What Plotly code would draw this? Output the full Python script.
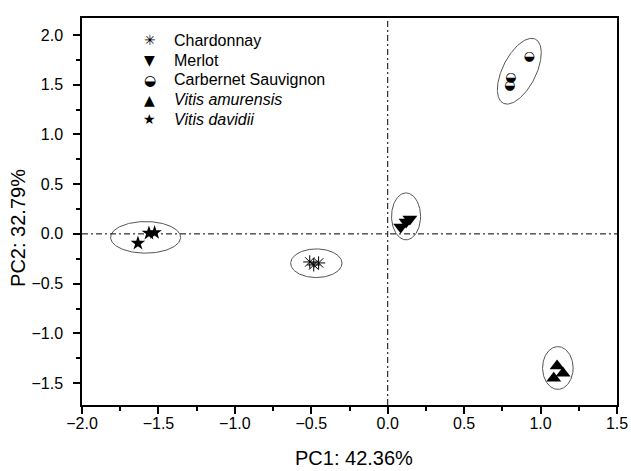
import numpy as np
import plotly.graph_objects as go

# ---- data ----
chard_x = [-0.51, -0.484, -0.452]
chard_y = [-0.282, -0.312, -0.292]
merlot_x = [0.085, 0.12, 0.145]
merlot_y = [0.07, 0.12, 0.15]
cab_x = [0.925, 0.805, 0.798]
cab_y = [1.784, 1.566, 1.492]
amur_x = [1.108, 1.147, 1.086]
amur_y = [-1.328, -1.401, -1.452]
david_x = [-1.634, -1.562, -1.525]
david_y = [-0.094, 0.007, 0.013]

legend_names = ["Chardonnay", "Merlot", "Carbernet Sauvignon",
                "<i>Vitis amurensis</i>", "<i>Vitis davidii</i>"]
legend_glyphs = ["✳", "▼", "◒", "▲", "★"]

x_title = "PC1: 42.36%"
y_title = "PC2: 32.79%"

# confidence ellipses: centre, and two conjugate half-axis vectors (data units)
ell_cx = [-0.467, 0.12, 0.861, 1.113, -1.584]
ell_cy = [-0.295, 0.176, 1.635, -1.348, -0.035]
ell_u = [(0.168, 0.0), (0.095, 0.0), (0.105, 0.322), (0.100, 0.0), (0.229, 0.0)]
ell_v = [(0.0, 0.144), (0.0, 0.236), (0.098, -0.075), (0.0, 0.215), (0.0, 0.159)]

x_ticks = [-2.0, -1.5, -1.0, -0.5, 0.0, 0.5, 1.0, 1.5]
y_ticks = [-1.5, -1.0, -0.5, 0.0, 0.5, 1.0, 1.5, 2.0]

FONT = "Liberation Sans, Arial, sans-serif"

fig = go.Figure()

# ellipses
t = np.linspace(0, 2 * np.pi, 200)
for cx, cy, u, v in zip(ell_cx, ell_cy, ell_u, ell_v):
    ex = cx + np.cos(t) * u[0] + np.sin(t) * v[0]
    ey = cy + np.cos(t) * u[1] + np.sin(t) * v[1]
    fig.add_trace(go.Scatter(x=ex, y=ey, mode="lines",
                             line=dict(color="#555555", width=1),
                             showlegend=False, hoverinfo="skip"))

fig.add_trace(go.Scatter(x=chard_x, y=chard_y, mode="markers", name="Chardonnay",
                         marker=dict(symbol="asterisk-open", size=11, color="black",
                                     line=dict(color="black", width=1)),
                         showlegend=False))
fig.add_trace(go.Scatter(x=merlot_x, y=merlot_y, mode="markers", name="Merlot",
                         marker=dict(symbol="triangle-down", size=13, color="black",
                                     line=dict(width=0)),
                         showlegend=False))
fig.add_trace(go.Scatter(x=cab_x, y=cab_y, mode="text", name="Carbernet Sauvignon",
                         text=["◒"] * len(cab_x), textposition="middle center",
                         textfont=dict(family="DejaVu Sans", size=13, color="black"),
                         showlegend=False))
fig.add_trace(go.Scatter(x=amur_x, y=amur_y, mode="markers", name="Vitis amurensis",
                         marker=dict(symbol="triangle-up", size=13, color="black",
                                     line=dict(width=0)),
                         showlegend=False))
fig.add_trace(go.Scatter(x=david_x, y=david_y, mode="markers", name="Vitis davidii",
                         marker=dict(symbol="star", size=11, color="black",
                                     line=dict(width=0)),
                         showlegend=False))

# reference lines through the origin
fig.add_vline(x=0, line=dict(color="black", width=1, dash="6px,3px,2px,3px"))
fig.add_hline(y=0, line=dict(color="black", width=1, dash="6px,3px,2px,3px"))

# manual legend
leg_y = [0.943, 0.891, 0.840, 0.789, 0.738]
for name, g, yy in zip(legend_names, legend_glyphs, leg_y):
    fig.add_annotation(x=0.127, y=yy, xref="paper", yref="paper", text=g,
                       showarrow=False, xanchor="center", yanchor="middle",
                       font=dict(family="DejaVu Sans", size=14, color="black"))
    fig.add_annotation(x=0.168, y=yy, xref="paper", yref="paper", text=name,
                       showarrow=False, xanchor="left", yanchor="middle",
                       font=dict(family=FONT, size=16, color="black"))

# axis titles
fig.add_annotation(x=0.508, y=-0.137, xref="paper", yref="paper", text=x_title,
                   showarrow=False, xanchor="center", yanchor="middle",
                   font=dict(family=FONT, size=20, color="black"))
fig.add_annotation(x=-0.12, y=0.457, xref="paper", yref="paper", text=y_title,
                   showarrow=False, xanchor="center", yanchor="middle", textangle=-90,
                   font=dict(family=FONT, size=20, color="black"))

axis_common = dict(showgrid=False, zeroline=False, showline=True, linecolor="black",
                   linewidth=1.5, mirror=True, ticks="outside", ticklen=7,
                   tickwidth=1.5, tickcolor="black", tickformat=".1f",
                   automargin=False,
                   tickfont=dict(family=FONT, size=16, color="black"),
                   minor=dict(ticks="outside", ticklen=4, tickwidth=1.5,
                              tickcolor="black", dtick=0.25, showgrid=False))

fig.update_xaxes(range=[-2.0, 1.5], tickvals=x_ticks, ticklabelstandoff=-4,
                 **axis_common)
fig.update_yaxes(range=[-1.72, 2.17], tickvals=y_ticks, ticklabelstandoff=7,
                 **axis_common)

fig.update_layout(template="none", width=631, height=471,
                  margin=dict(l=82, r=14, t=18, b=66, autoexpand=False),
                  plot_bgcolor="white", paper_bgcolor="white", showlegend=False)

fig.write_html("out.html", config={"displayModeBar": False},
               post_script="document.body.style.margin='0px';document.body.style.overflow='hidden';")
